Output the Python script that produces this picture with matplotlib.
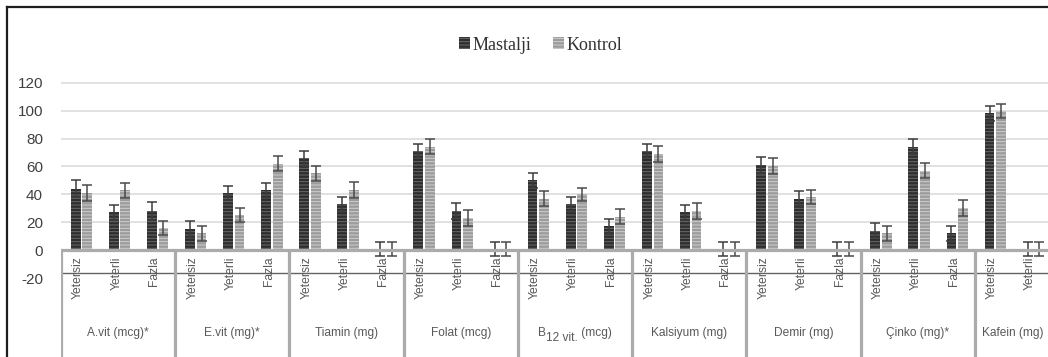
import matplotlib
matplotlib.use("Agg")
import matplotlib.pyplot as plt
from matplotlib.patches import Patch
from matplotlib.lines import Line2D
from matplotlib.transforms import offset_copy
import numpy as np

plt.rcParams['font.family'] = ['Liberation Sans', 'DejaVu Sans']
plt.rcParams['hatch.linewidth'] = 0.7

groups = ['A.vit (mcg)*', 'E.vit (mg)*', 'Tiamin (mg)', 'Folat (mcg)',
          'B12 vit. (mcg)', 'Kalsiyum (mg)', 'Demir (mg)',
          'Çinko (mg)*', 'Kafein (mg)']
group_subcats = [['Yetersiz', 'Yeterli', 'Fazla']] * 8 + [['Yetersiz', 'Yeterli']]

mastalji = [44, 27, 28, 15, 41, 43, 66, 33, 1, 71, 28, 1, 50, 33, 17,
            71, 27, 1, 61, 37, 1, 14, 74, 12, 98, 1]
kontrol = [41, 43, 16, 12, 25, 62, 55, 43, 1, 74, 23, 1, 37, 40, 24,
           69, 28, 1, 60, 38, 1, 12, 57, 30, 100, 1]
mastalji_err = [6, 5.4, 6.4, 6, 5.3, 5.3, 5.4, 5, 5, 5.3, 6, 5, 5.2, 5.3, 5.3,
                5.3, 5.3, 5, 5.5, 5.4, 5, 5.4, 5.3, 5.4, 5.4, 5]
kontrol_err = [5.5, 5.3, 5, 5.4, 5.2, 5.4, 5.3, 5.7, 5, 5.3, 5.5, 5, 5.2, 4.8, 5.5,
               5.5, 5.8, 5, 5.7, 5.3, 5, 5.4, 5.5, 5.8, 5, 5]
yticks = [-20, 0, 20, 40, 60, 80, 100, 120]

subcats = [s for g in group_subcats for s in g]
n = len(subcats)
idx = np.arange(n)

W, H = 1048, 357
fig = plt.figure(figsize=(W / 100, H / 100), dpi=100)
ymin, ymax = -76.6, 121
ax = fig.add_axes([61 / W, 0, 990 / W, 275.7 / H])
ax.set_xlim(0, n)
ax.set_ylim(ymin, ymax)

bw = 0.255
ax.bar(idx + 0.385, mastalji, width=bw, facecolor='#2e2e2e', edgecolor='#6a6a6a',
       linewidth=0, hatch='-----', zorder=3)
ax.bar(idx + 0.69, kontrol, width=bw, facecolor='#9c9c9c', edgecolor='#cfcfcf',
       linewidth=0, hatch='-----', zorder=3)
ax.errorbar(idx + 0.385, mastalji, yerr=mastalji_err, fmt='none', ecolor='#3c3c3c',
            elinewidth=1.1, capsize=3.6, capthick=1.1, zorder=4)
ax.errorbar(idx + 0.69, kontrol, yerr=kontrol_err, fmt='none', ecolor='#4a4a4a',
            elinewidth=1.1, capsize=3.6, capthick=1.1, zorder=4)

# gridlines
for t in yticks:
    if t > 0:
        ax.axhline(t, color='#d9d9d9', lw=1.1, zorder=1)
ax.axhline(-16.5, color='#6e5f5f', lw=1.0, zorder=5)
# category axis
ax.axhline(0, color='#ababab', lw=2.3, zorder=5)
bounds = np.cumsum([0] + [len(g) for g in group_subcats])
ax.vlines(bounds, ymin, 0, colors='#ababab', lw=2.3, zorder=5)

for i, s in enumerate(subcats):
    ax.text(i + 0.45, -4.5, s, rotation=90, ha='center', va='top',
            fontsize=8.7, color='#595959', zorder=6)

lab_kw = dict(fontsize=8.6, color='#595959', zorder=6)
for gi, g in enumerate(groups):
    cx = (bounds[gi] + bounds[gi + 1]) / 2
    if g.startswith('B12'):
        # "B" + lowered "12 vit." + " (mcg)", laid out piece by piece
        fig.canvas.draw()
        r = fig.canvas.get_renderer()
        parts = [('B', 0), ('12 vit.', -3.5), (' (mcg)', 0)]
        tmp = [ax.text(0, 0, p, **lab_kw) for p, _ in parts]
        widths = [t.get_window_extent(r).width for t in tmp]
        for t in tmp:
            t.remove()
        total = sum(widths)
        x0 = -total / 2 * 72 / fig.dpi
        for (p, dy), w in zip(parts, widths):
            tr = offset_copy(ax.transData, fig=fig, x=x0, y=dy, units='points')
            ax.text(cx, -59.4, p, ha='left', va='center', transform=tr, **lab_kw)
            x0 += w * 72 / fig.dpi
    else:
        ax.text(cx, -59.4, g, ha='center', va='center', **lab_kw)

ax.set_yticks(yticks)
ax.set_yticklabels([str(t) for t in yticks], fontsize=11, color='#404040')
ax.tick_params(axis='y', length=0, pad=13)
ax.set_xticks([])
for sp in ax.spines.values():
    sp.set_visible(False)

# outer border
fig.add_artist(Line2D([7 / W, 1.0], [1 - 7 / H, 1 - 7 / H], color='#1e1e1e', lw=1.6,
                      transform=fig.transFigure))
fig.add_artist(Line2D([7 / W, 7 / W], [0, 1 - 7 / H], color='#1e1e1e', lw=1.6,
                      transform=fig.transFigure))

handles = [Patch(facecolor='#2e2e2e', edgecolor='#6a6a6a', hatch='-----', lw=0),
           Patch(facecolor='#9c9c9c', edgecolor='#cfcfcf', hatch='-----', lw=0)]
fig.legend(handles, ['Mastalji', 'Kontrol'], loc='center',
           bbox_to_anchor=(541 / W, 1 - 45 / H), ncol=2, frameon=False,
           prop={'family': 'Liberation Serif', 'size': 13},
           handlelength=0.6, handleheight=0.6, handletextpad=0.15,
           columnspacing=1.2, labelcolor='#333333')

fig.savefig('out.png', dpi=100)
